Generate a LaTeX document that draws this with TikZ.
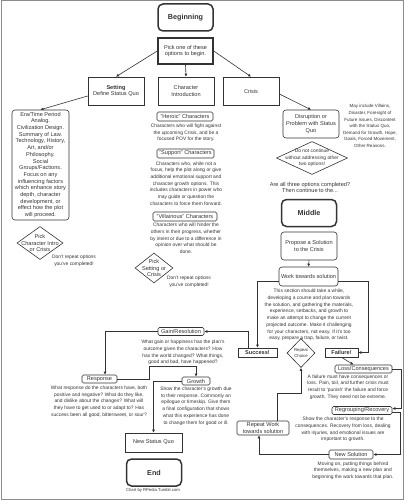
\documentclass[tikz,border=0pt]{standalone}
\usepackage{fontspec}
\setmainfont{Liberation Sans}
\usetikzlibrary{shapes.geometric,arrows.meta,calc}

\newcommand\fsmall{\fontsize{4.9}{6.7}\selectfont}
\newcommand\fsmaller{\fontsize{4.5}{6.6}\selectfont}
\newcommand\fmed{\fontsize{5.6}{6.7}\selectfont}
\newcommand\fbig{\bfseries\fontsize{7.2}{8}\selectfont}

\definecolor{inkgray}{HTML}{333333}
\definecolor{framegray}{HTML}{8C8C8C}

\tikzset{
  txt/.style={align=center, font=\fmed, inner sep=0pt, text=inkgray},
  box/.style={txt, draw=inkgray, line width=0.6pt},
  rbox/.style={box, rounded corners=3pt},
  tagbox/.style={box, rounded corners=1.5pt, minimum height=9pt},
  bigbox/.style={box, line width=1.5pt, rounded corners=5pt, font=\fbig,
    minimum width=55pt, minimum height=27pt},
  note/.style={txt, font=\fsmall},
  choice/.style={diamond, draw=inkgray, line width=0.6pt, inner sep=0pt},
  arr/.style={draw=inkgray, line width=0.6pt, -{Latex[length=3pt,width=3pt]}},
}

\begin{document}
\begin{tikzpicture}[x=1pt,y=-1pt]
    \useasboundingbox (0,0) rectangle (404,500);
    \draw[framegray, line width=1pt] (1,1) rectangle (403,499);

    % beginning
    \node[bigbox] (beginning) at (185.5,17.5) {Beginning};
    \node[box, line width=1.5pt, minimum width=55pt, minimum height=26pt] (pick) at (185.5,51) {Pick one of these\\options to begin.};

    \node[box, minimum width=56pt, minimum height=28pt] (setting) at (116,91) {\textbf{Setting}\\Define Status Quo};
    \node[box, minimum width=56pt, minimum height=28pt] (intro) at (186,91) {Character\\Introduction};
    \node[box, minimum width=56pt, minimum height=28pt] (crisis) at (251,91) {Crisis};

    \draw[arr](pick.west)--(setting.north);
    \draw[arr](pick.south)--(intro.north);
    \draw[arr](pick.east)--(crisis.north);

    % setting
    \node[rbox, minimum width=57pt, minimum height=110pt] (era) at (40.5,165) {Era/Time Period\\Analog.\\Civilization Design.\\Summary of Law.\\Technology, History,\\Art, and/or\\Philosophy.\\Social\\Groups/Factions.\\Focus on any\\influencing factors\\which enhance story\\depth, character\\development, or\\effect how the plot\\will proceed.};
    \draw[arr](setting.190)--(era.north);

    \node[choice, minimum width=46pt, minimum height=33pt] (pickA) at (40,243) {};
    \node[txt] (pickAtxt) at (pickA) {Pick\\Character Intro\\or Crisis};
    \node[note] (dontA) at (74,261) {Don't repeat options\\you've completed!};

    % characters
    \node[tagbox, minimum width=56pt] (heroic) at (185,116.5) {"Heroic" Characters};
    \node[note] (heroictxt) at (186,133) {Characters who will fight against\\the upcoming Crisis, and be a\\focused POV for the story.};
    \node[tagbox, minimum width=57pt] (support) at (185.5,153.5) {"Support" Characters};
    \node[note] (supporttxt) at (186,183.5) {Characters who, while not a\\focus, help the plot along or give\\additional emotional support and\\character growth options. This\\includes characters in power who\\may guide or question the\\characters to force them forward.};
    \node[tagbox, minimum width=64pt] (villain) at (185,216.5) {"Villainous" Characters};
    \node[note] (villaintxt) at (186,238.5) {Characters who will hinder the\\others in their progress, whether\\by intent or due to a difference in\\opinion over what should be\\done.};

    \node[choice, minimum width=38pt, minimum height=30pt] (pickB) at (154,268) {};
    \node[txt] (pickBtxt) at (pickB) {Pick\\Setting or\\Crisis};
    \node[note] (dontB) at (189,282) {Don't repeat options\\you've completed!};

    % crisis
    \node[rbox, minimum width=56pt, minimum height=28pt] (disrupt) at (311,124) {Disruption or\\Problem with Status\\Quo};
    \draw[arr](crisis.-6)--(disrupt.north);
    \node[note, font=\fsmaller] (reasons) at (370,126) {May include Villains,\\Disaster, Foresight of\\Future Issues, Discontent\\with the Status Quo,\\Demand for Growth, Hope,\\Goals, Forced Movement,\\Other Reasons.};
    \node[choice, minimum width=71pt, minimum height=33pt] (noskip) at (312,158) {};
    \node[note] (noskiptxt) at (noskip) {Do not continue\\without addressing other\\two options!};
    \node[txt] (allthree) at (310,187.5) {Are all three options completed?\\Then continue to the...};

    % middle
    \node[bigbox] (middle) at (309,213) {Middle};
    \node[rbox, minimum width=56pt, minimum height=28pt] (propose) at (309,246) {Propose a Solution\\to the Crisis};
    \node[rbox, minimum width=59pt, minimum height=19pt] (work) at (308.5,276.5) {Work towards solution};
    \draw[arr](propose.south)--(work.north);
    \node[note] (worktxt) at (309,315) {This section should take a while,\\developing a course and plan towards\\the solution, and gathering the materials,\\experience, setbacks, and growth to\\make an attempt to change the current\\projected outcome. Make it challenging\\for your characters, not easy. If it's too\\easy, prepare a trap, failure, or twist.};

    \node[box, font=\fmed\bfseries, minimum width=39pt, minimum height=9pt] (success) at (257.5,352.5) {Success!};
    \node[box, font=\fmed\bfseries, minimum width=33pt, minimum height=9pt] (failure) at (341.5,352.5) {Failure!};
    \node[choice, minimum width=28pt, minimum height=29pt] (again) at (301,353) {};
    \node[note, font=\fontsize{4.3}{5.5}\selectfont] (againtxt) at (again) {Repeat\\Choice};

    \draw[arr]([yshift=-5pt]work.west)-|(success.north);
    \draw[arr]([yshift=-5pt]work.east)-|($(failure.east)+(10,0)$)--(failure.east);

    % success branch
    \node[tagbox, minimum width=46pt, minimum height=8pt] (gain) at (181,331.5) {Gain/Resolution};
    \node[note] (gaintxt) at (183,352.5) {What gain or happiness has the plan's\\outcome given the characters? How\\has the world changed? What things,\\good and bad, have happened?};
    \node[tagbox, minimum width=35pt, minimum height=8pt] (response) at (99.5,379) {Response};
    \node[note] (responsetxt) at (99,401.5) {What response do the characters have, both\\positive and negative? What do they like,\\and dislike about the changes? What will\\they have to get used to or adapt to? Has\\success been all good, bittersweet, or sour?};
    \node[tagbox, minimum width=28pt, minimum height=8pt] (growth) at (196,381) {Growth};
    \node[note] (growthtxt) at (196,406) {Show the character's growth due\\to their response. Commonly an\\epilogue or timeskip. Give them\\a final configuration that shows\\what this experience has done\\to change them for good or ill.};
    \node[box, minimum width=57pt, minimum height=19pt] (newsq) at (153.5,442.5) {New Status Quo};
    \node[bigbox] (end) at (154,472.5) {End};
    \node[note, font=\fontsize{4.2}{5}\selectfont] (credit) at (153,490.5) {Chart by RPedia.Tumblr.com};

    \draw[arr]([xshift=-9.5pt]success.north)|-(gain.east);
    \draw[arr](gain.west)-|([xshift=5.5pt]response.north);
    \draw[arr](response.east)--++(32,0)|-($(growth.north)+(0,-10)$)--(growth.north);
    \draw[arr](growth.west)-|(newsq.north);

    % failure branch
    \node[tagbox, minimum width=57pt, minimum height=8pt] (loss) at (363.5,369) {Loss/Consequences};
    \node[note] (losstxt) at (348,387) {A failure must have consequences or\\loss. Pain, toil, and further crisis must\\result to `punish' the failure and force\\growth. They need not be extreme.};
    \node[tagbox, minimum width=60pt, minimum height=8pt] (regroup) at (362,410.5) {Regrouping/Recovery};
    \node[note] (regrouptxt) at (343,429.5) {Show the character's response to the\\consequences. Recovery from loss, dealing\\with injuries, and emotional issues are\\important to growth.};
    \node[tagbox, minimum width=44pt, minimum height=9pt] (newsol) at (351,454.5) {New Solution};
    \node[note] (newsoltxt) at (353,470.5) {Moving on, putting things behind\\themselves, making a new plan and\\beginning the work towards that plan.};
    \node[tagbox, minimum width=52pt, minimum height=14pt] (repeatwork) at (263,428) {Repeat Work\\towards solution};

    \draw[arr](failure.south)--([xshift=-10pt]loss.north);
    \draw[arr](loss.east)--++(9,0)|-([yshift=2pt]regroup.east);
    \draw[arr]([yshift=-2pt]regroup.east)--++(8,0)|-(newsol.east);
    \draw[arr](newsol.west)-|([xshift=-4pt]repeatwork.south);
    \draw[arr]([xshift=14pt]repeatwork.north)--++(0,-27)-|(again.south);
\end{tikzpicture}
\end{document}
